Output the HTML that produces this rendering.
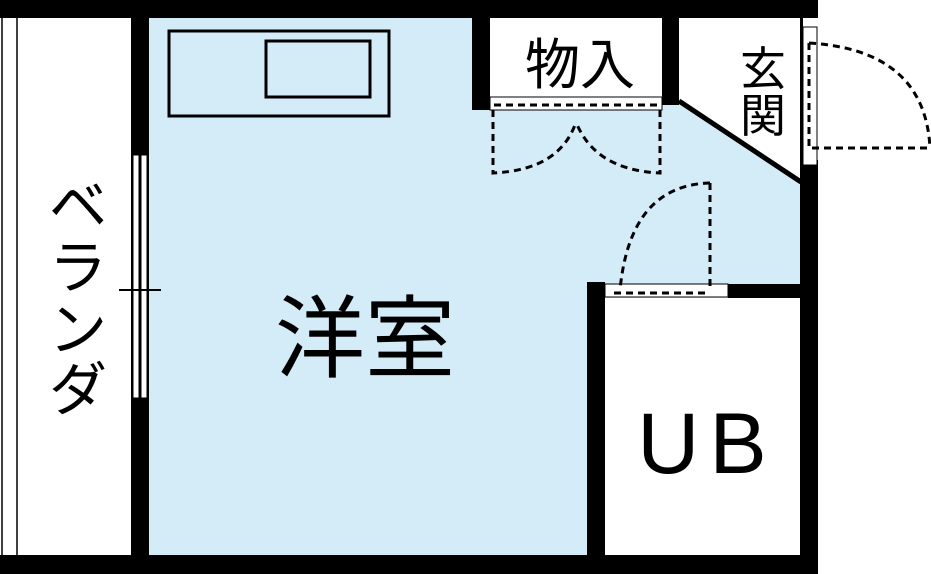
<!DOCTYPE html>
<html><head><meta charset="utf-8"><style>
html,body{margin:0;padding:0;background:#fff;}
svg{display:block;}
text{font-family:"Liberation Sans","Noto Sans CJK JP",sans-serif;fill:#000;}
</style></head><body>
<svg width="931" height="574" viewBox="0 0 931 574" xmlns="http://www.w3.org/2000/svg">
<rect x="0" y="0" width="931" height="574" fill="#fff"/>
<rect x="149" y="18" width="651" height="537" fill="#d4ebf8"/>
<rect x="490" y="18" width="172" height="80" fill="#fff"/>
<polygon points="679,18 800,18 800,182 679,100" fill="#fff"/>
<rect x="605" y="298" width="195" height="257" fill="#fff"/>
<line x1="2" y1="18" x2="2" y2="555" stroke="#000" stroke-width="1.5"/>
<line x1="17" y1="18" x2="17" y2="555" stroke="#000" stroke-width="1.5"/>
<rect x="0" y="0" width="818" height="18" fill="#000"/>
<rect x="0" y="555" width="818" height="19" fill="#000"/>
<rect x="131" y="18" width="18" height="537" fill="#000"/>
<rect x="472" y="18" width="18" height="92" fill="#000"/>
<rect x="662" y="18" width="17" height="87" fill="#000"/>
<line x1="679" y1="101" x2="801" y2="182" stroke="#000" stroke-width="5"/>
<rect x="800" y="160" width="18" height="395" fill="#000"/>
<rect x="800" y="18" width="3" height="145" fill="#000"/>
<rect x="587" y="282" width="18" height="273" fill="#000"/>
<rect x="728" y="284" width="72" height="14" fill="#000"/>
<rect x="133" y="155" width="6" height="243" fill="#fff" stroke="#000" stroke-width="1"/>
<rect x="141" y="155" width="6" height="243" fill="#fff" stroke="#000" stroke-width="1"/>
<line x1="119" y1="290" x2="161" y2="290" stroke="#000" stroke-width="2"/>
<rect x="169" y="31" width="220" height="85" fill="none" stroke="#000" stroke-width="3"/>
<rect x="266" y="41" width="104" height="56" fill="none" stroke="#000" stroke-width="3"/>
<rect x="490" y="97" width="172" height="13" fill="#fff" stroke="#000" stroke-width="1"/>
<rect x="605" y="284" width="123" height="13" fill="#fff" stroke="#000" stroke-width="1"/>
<rect x="803" y="27" width="14" height="138" fill="#fff" stroke="#000" stroke-width="1"/>
<g fill="none" stroke="#000" stroke-width="3" stroke-dasharray="7,5">
<line x1="494" y1="105" x2="658" y2="105"/>
<path d="M493,110 V173 Q560,170 576,122"/>
<path d="M660,110 V173 Q595,170 576,122"/>
<line x1="809" y1="43" x2="809" y2="148"/>
<path d="M809,43 Q925,50 930,148"/>
<line x1="812" y1="148" x2="930" y2="148"/>
<line x1="614" y1="293" x2="710" y2="293"/>
<line x1="710" y1="183" x2="710" y2="290"/>
<path d="M710,183 Q630,185 620,290"/>
</g>
<text x="365" y="370" font-size="90" text-anchor="middle">洋室</text>
<text x="580" y="84" font-size="55" text-anchor="middle">物入</text>
<text x="763" y="85" font-size="46" text-anchor="middle">玄</text>
<text x="763" y="132" font-size="46" text-anchor="middle">関</text>
<g font-size="58" text-anchor="middle">
<text x="78" y="226">ベ</text>
<text x="78" y="288">ラ</text>
<text x="78" y="350">ン</text>
<text x="78" y="410">ダ</text>
</g>
<text x="707" y="473" font-size="86" text-anchor="middle" letter-spacing="10">UB</text>
</svg>
</body></html>
